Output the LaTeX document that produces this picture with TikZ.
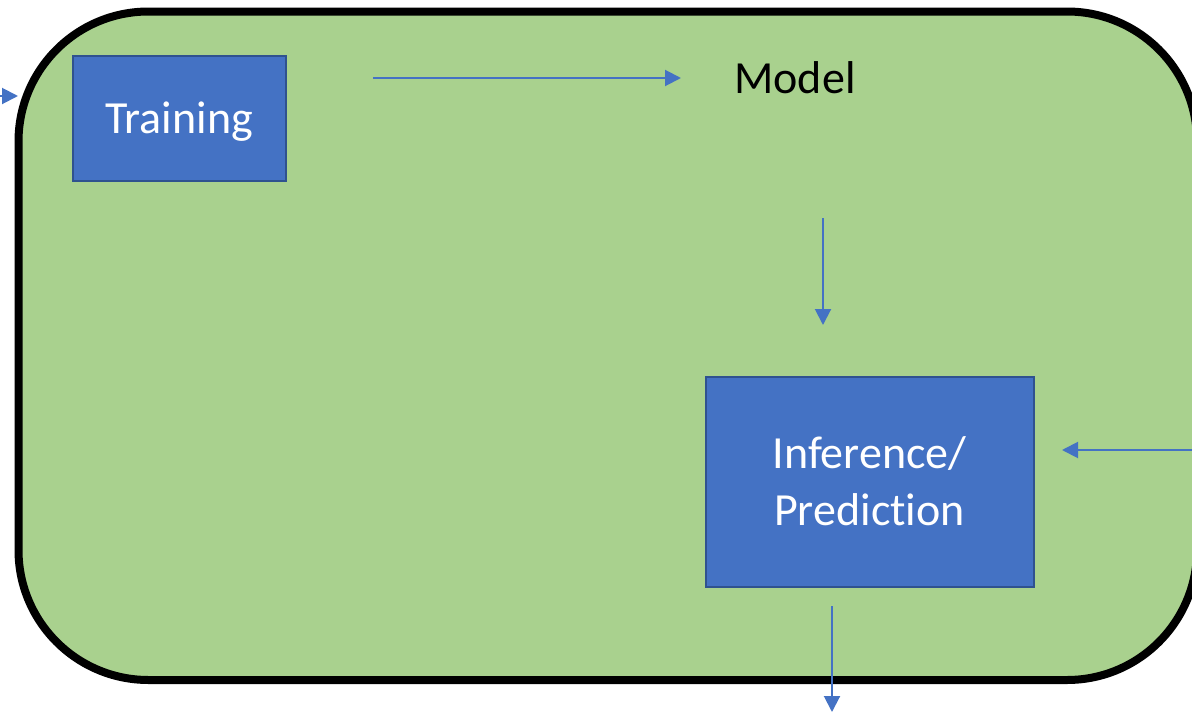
\documentclass[tikz,border=0pt]{standalone}
\usepackage{fontspec}
\setmainfont{Carlito}[Ligatures=NoCommon]
\usetikzlibrary{arrows.meta}
\definecolor{panelgreen}{HTML}{A9D18E}
\definecolor{boxblue}{HTML}{4472C4}
\definecolor{boxedge}{HTML}{2F528F}
\tikzset{
  stagebox/.style={draw=boxedge, fill=boxblue, line width=2pt, text=white,
    font=\fontsize{46}{57}\selectfont, align=center, inner sep=0pt},
  flow/.style={draw=boxblue, line width=2pt,
    -{Triangle[length=16pt,width=16pt]}},
}
\begin{document}
\begin{tikzpicture}[x=1pt,y=-1pt]
\path[use as bounding box, clip] (0,0) rectangle (1192,712);
% outer panel
\draw[line width=8pt, fill=panelgreen, rounded corners=130pt]
  (18.5,11.5) rectangle (1197,680);
% stages
\node[stagebox, minimum width=213pt, minimum height=125pt] (train) at (179,118) {};
\node[text=white, font=\fontsize{46}{57}\selectfont, inner sep=0pt] (trainlbl) at (179,122) {Training};
\node[stagebox, minimum width=328pt, minimum height=210pt] (infer) at (869.5,481.5) {Inference/\\Prediction};
\node[font=\fontsize{46}{57}\selectfont, inner sep=0pt] (model) at (795,78) {Model};
% connector ends
\coordinate (inL) at (-5,96);
\coordinate (inLtip) at (18,96);
\coordinate (trainOut) at (373,78);
\coordinate (modelIn) at (681,78);
\coordinate (modelOut) at (823,218);
\coordinate (inferIn) at (823,325);
\coordinate (sideSrc) at (1200,450);
\coordinate (sideTip) at (1062,450);
\coordinate (outSrc) at (832,606);
\coordinate (outTip) at (832,712);
% flow
\draw[flow] (inL) -- (inLtip);
\draw[flow] (trainOut) -- (modelIn);
\draw[flow] (modelOut) -- (inferIn);
\draw[flow] (sideSrc) -- (sideTip);
\draw[flow] (outSrc) -- (outTip);
\end{tikzpicture}
\end{document}
